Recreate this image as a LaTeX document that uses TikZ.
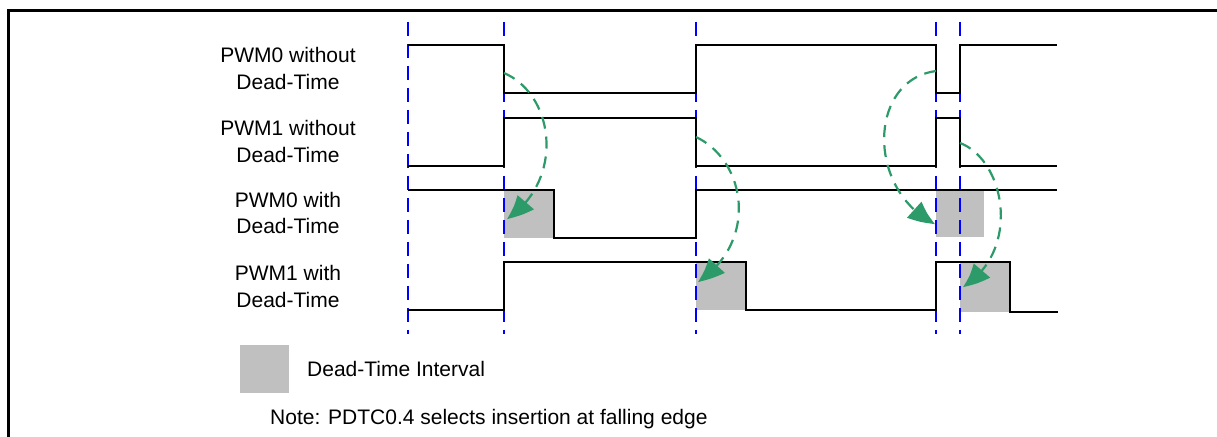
\documentclass[tikz,border=0pt]{standalone}
\usepackage{fontspec}
\setmainfont{Liberation Sans}
\usetikzlibrary{arrows.meta,bending}
\definecolor{dtgreen}{RGB}{45,155,105}
\definecolor{dtgray}{RGB}{192,192,192}
\begin{document}
\begin{tikzpicture}[x=1pt,y=-1pt,
  wave/.style={line width=2pt,line join=miter},
  guide/.style={blue,line width=2pt,dash pattern=on 14pt off 8pt},
  dtbox/.style={fill=dtgray,draw=none},
  flow/.style={dtgreen,line width=2.2pt,dash pattern=on 12pt off 8pt,-{Triangle[length=26pt,width=21pt,bend]}},
  lbl/.style={font=\fontsize{21}{26}\selectfont,inner sep=0pt,anchor=base},
  lblw/.style={font=\fontsize{21}{26}\selectfont,inner sep=0pt,anchor=base west}]
\useasboundingbox (0,0) rectangle (1217,436);
% frame
\draw[line width=3pt] (8.5,460) -- (8.5,10.5) -- (1240,10.5);
% dead-time boxes
\fill[dtgray] (504,190) rectangle (554,238);
\fill[dtgray] (696,262) rectangle (746,310);
\fill[dtgray] (936,190) rectangle (984,237);
\fill[dtgray] (960,262) rectangle (1010,312);
\fill[dtgray] (240,345) rectangle (289,393);
% guides
\foreach \x in {408,504,696,936,960}
  \draw[guide] (\x,22) -- (\x,334);
% waveforms
\draw[wave] (408,45) -- (504,45) -- (504,93) -- (696,93) -- (696,45) -- (936,45) -- (936,93) -- (960,93) -- (960,45) -- (1057,45);
\draw[wave] (408,166) -- (504,166) -- (504,118) -- (696,118) -- (696,166) -- (936,166) -- (936,118) -- (960,118) -- (960,166) -- (1057,166);
\draw[wave] (408,190) -- (554,190) -- (554,238) -- (696,238) -- (696,190) -- (1057,190);
\draw[wave] (408,310) -- (504,310) -- (504,262) -- (746,262) -- (746,310) -- (936,310) -- (936,262) -- (1010,262) -- (1010,312) -- (1058,312);
% labels
\node[lbl] (l0a) at (288,63) {PWM0 without};
\node[lbl] (l0b) at (288,89) {Dead-Time};
\node[lbl] (l1a) at (288,135) {PWM1 without};
\node[lbl] (l1b) at (288,162) {Dead-Time};
\node[lbl] (l2a) at (288,207) {PWM0 with};
\node[lbl] (l2b) at (288,233) {Dead-Time};
\node[lbl] (l3a) at (288,280) {PWM1 with};
\node[lbl] (l3b) at (288,307) {Dead-Time};
\node[lblw] (leg) at (307,376) {Dead-Time Interval};
\node[lblw] (note) at (270,424) {Note: PDTC0.4 selects insertion at falling edge};
% arrows
\coordinate (a1s) at (504,73);  \coordinate (a1e) at (507,219);
\coordinate (a2s) at (696,137); \coordinate (a2e) at (698,282);
\coordinate (a3s) at (936,71);  \coordinate (a3e) at (935,224);
\coordinate (a4s) at (960,143); \coordinate (a4e) at (963,287);
\draw[flow] (a1s) .. controls (555,95) and (565,180) .. (a1e);
\draw[flow] (a2s) .. controls (745,160) and (760,240) .. (a2e);
\draw[flow] (a3s) .. controls (868,80) and (866,190) .. (a3e);
\draw[flow] (a4s) .. controls (1005,160) and (1022,250) .. (a4e);
\end{tikzpicture}
\end{document}
